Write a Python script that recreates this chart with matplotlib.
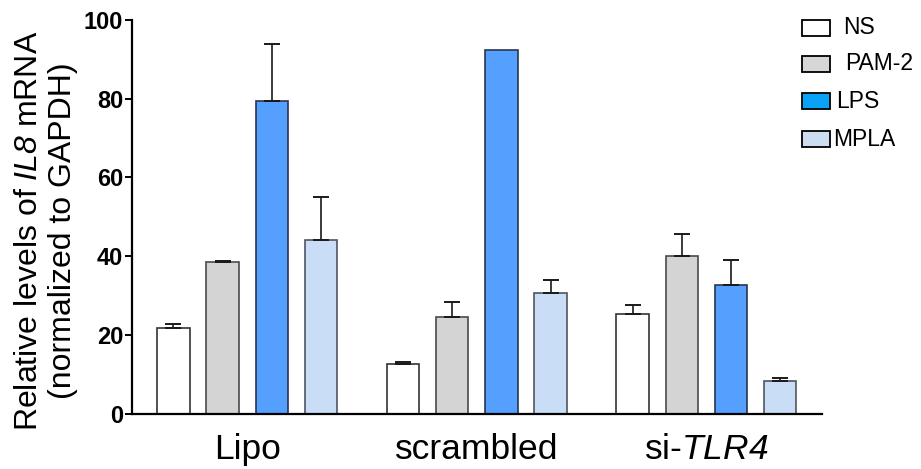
import numpy as np
import matplotlib
matplotlib.use("Agg")
import matplotlib.pyplot as plt
from matplotlib.patches import Rectangle

plt.rcParams["font.family"] = ["Liberation Sans", "DejaVu Sans"]
# Math text is used only for the italic gene names, so render it all in italics
plt.rcParams["mathtext.fontset"] = "custom"
plt.rcParams["mathtext.rm"] = "Liberation Sans:italic"
plt.rcParams["mathtext.it"] = "Liberation Sans:italic"

# Data
groups = ["Lipo", "scrambled", "si-$TLR4$"]
treatments = ["NS", "PAM-2", "LPS", "MPLA"]
ns_mean = [21.7, 12.7, 25.2]
pam2_mean = [38.5, 24.6, 40.1]
lps_mean = [79.3, 92.4, 32.8]
mpla_mean = [44.2, 30.7, 8.3]
ns_err = [1.2, 0.5, 2.4]
pam2_err = [0.2, 3.8, 5.5]
lps_err = [14.6, 0.0, 6.2]
mpla_err = [10.9, 3.3, 0.8]
yticks = [0, 20, 40, 60, 80, 100]

means = [ns_mean, pam2_mean, lps_mean, mpla_mean]
errs = [ns_err, pam2_err, lps_err, mpla_err]

bar_colors = ["#FFFFFF", "#D4D4D4", "#559FFF", "#C9DDF6"]
edge_colors = ["#333333", "#4A4A4A", "#2A3550", "#4F5560"]
legend_colors = ["#FFFFFF", "#D6D6D6", "#0AA2F5", "#CCDDF2"]

fig = plt.figure(figsize=(9.21, 4.69), dpi=100)
ax = fig.add_axes([0.1430, 0.1179, 0.7492, 0.8395])

group_step = 4.67
width = 0.66
centers = np.arange(len(groups)) * group_step

for j, (vals, err) in enumerate(zip(means, errs)):
    x = centers + (j - 1.5)
    vals = np.asarray(vals)
    err = np.asarray(err)
    ax.bar(x, vals, width=width, color=bar_colors[j], edgecolor=edge_colors[j],
           linewidth=1.2, zorder=2)
    has_err = err > 0
    ax.errorbar(x[has_err], vals[has_err],
                yerr=[np.zeros(has_err.sum()), err[has_err]], fmt="none",
                ecolor="#1A1A1A", elinewidth=1.2, capsize=6, capthick=1.4,
                zorder=3)

ax.set_xlim(-2.35, centers[-1] + 1.5 + 0.845)
ax.set_ylim(0, 100)
ax.set_yticks(yticks)
ax.set_yticklabels([str(t) for t in yticks], fontsize=17, fontweight="bold")
ax.tick_params(axis="y", length=5, width=1.4, pad=1)
ax.set_xticks(centers)
ax.set_xticklabels(groups, fontsize=25.5)
ax.tick_params(axis="x", length=0, pad=14)

for side in ["top", "right"]:
    ax.spines[side].set_visible(False)
for side in ["left", "bottom"]:
    ax.spines[side].set_linewidth(1.6)
    ax.spines[side].set_color("black")

fig.text(46 / 921, 1 - 231 / 469,
         "Relative levels of $IL8$ mRNA\n(normalized to GAPDH)",
         rotation=90, ha="center", va="center", multialignment="center",
         fontsize=23, linespacing=1.15)

# Legend drawn as boxes with labels to the right
W, H = 921.0, 469.0
row_y = [28, 64, 101, 139]
text_pad = [13, 15, 6, 3]
for lab, col, yc, pad in zip(treatments, legend_colors, row_y, text_pad):
    fig.add_artist(Rectangle((802 / W, 1 - (yc + 8) / H), 28 / W, 16 / H,
                             transform=fig.transFigure, facecolor=col,
                             edgecolor="black", linewidth=1.3))
    fig.text((830 + pad) / W, 1 - yc / H, lab, ha="left", va="center",
             fontsize=16.5)

fig.savefig("out.png", dpi=100)
